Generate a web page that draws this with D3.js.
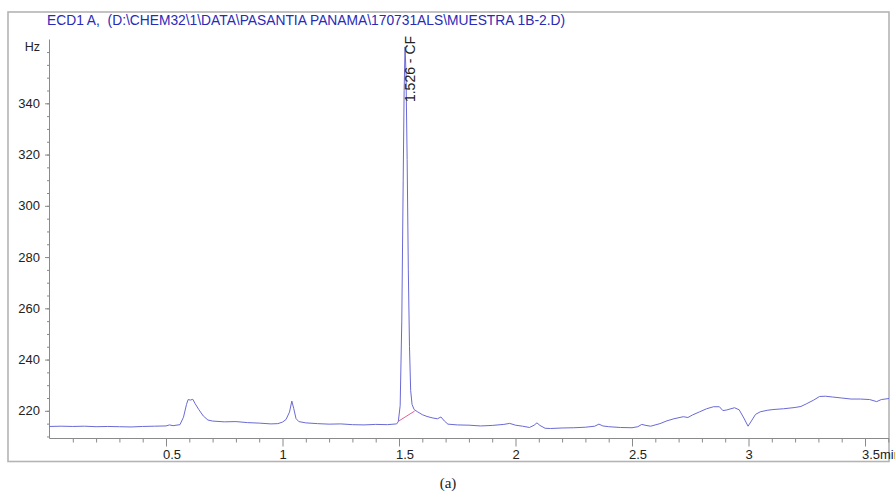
<!DOCTYPE html>
<html>
<head>
<meta charset="utf-8">
<script src="https://cdn.jsdelivr.net/npm/d3@7"></script>
<style>
  html, body { margin: 0; padding: 0; background: #fff; }
  svg { display: block; }
</style>
</head>
<body>
<svg id="chart" width="895" height="497"></svg>
<script>
const titleText = "ECD1 A,  (D:\\CHEM32\\1\\DATA\\PASANTIA PANAMA\\170731ALS\\MUESTRA 1B-2.D)";
const yUnit = "Hz";
const caption = "(a)";
const peakLabel = "1.526 - CF";
const peakTime = 1.526;

const times = [0.00,0.05,0.10,0.15,0.20,0.25,0.30,0.35,0.40,0.45,0.50,0.515,0.53,0.56,0.575,0.588,0.595,0.605,0.615,0.625,0.64,0.66,0.68,0.70,0.75,0.80,0.85,0.90,0.95,0.98,1.00,1.015,1.03,1.04,1.048,1.058,1.07,1.10,1.15,1.20,1.25,1.30,1.35,1.40,1.45,1.49,1.497,1.505,1.512,1.518,1.522,1.526,1.530,1.535,1.540,1.545,1.550,1.556,1.565,1.58,1.60,1.62,1.645,1.665,1.68,1.695,1.71,1.75,1.80,1.85,1.90,1.95,1.975,2.00,2.03,2.06,2.08,2.092,2.105,2.127,2.15,2.20,2.25,2.30,2.34,2.358,2.375,2.40,2.45,2.50,2.525,2.542,2.56,2.58,2.62,2.65,2.68,2.72,2.74,2.76,2.79,2.82,2.85,2.875,2.89,2.905,2.94,2.96,2.98,2.998,3.015,3.03,3.05,3.08,3.105,3.15,3.20,3.225,3.25,3.28,3.305,3.33,3.36,3.40,3.44,3.48,3.52,3.55,3.57,3.603];
const signal = [213.9,214.0,213.9,214.0,213.8,213.9,213.8,213.7,213.9,214.0,214.1,214.5,214.2,214.6,217.5,222.5,224.4,224.2,224.5,222.8,220.6,218.0,216.4,216.0,215.7,215.8,215.4,215.2,214.9,215.0,215.6,216.6,219.5,223.8,221.0,217.0,215.8,215.3,215.0,214.8,214.9,214.6,214.5,214.7,214.6,214.9,215.8,222,255,310,345,362,352,318,275,245,228,222.5,220.5,219.6,218.5,217.8,217.2,216.9,217.6,216.0,214.8,214.5,214.4,214.1,214.3,214.7,215.1,214.4,214.0,213.5,214.4,215.3,214.3,213.2,213.1,213.3,213.4,213.6,214.0,214.8,214.1,213.8,213.5,213.4,213.8,214.7,214.3,214.0,215.0,216.1,216.9,217.7,217.4,218.4,219.6,220.8,221.6,221.6,220.1,220.3,221.2,220.4,217.2,214.0,216.4,218.6,219.6,220.2,220.5,220.8,221.3,221.7,222.8,224.2,225.6,225.7,225.4,225.0,224.6,224.6,224.4,223.6,224.4,224.8];

// integration baseline of the main peak
const baseTimes = [1.495, 1.567];
const baseValues = [215.8, 219.9];

const xMajorTicks = [0.5, 1, 1.5, 2, 2.5, 3, 3.5];
const xMajorLabels = ["0.5", "1", "1.5", "2", "2.5", "3", "3.5min"];
const xMinorTicks = d3.range(1, 37).map(i => i / 10);
const yMajorTicks = [220, 240, 260, 280, 300, 320, 340];
const yMinorTicks = d3.range(210, 365, 5);

(function () {
const svg = d3.select("#chart");
const pL = 49.5, pR = 889, pT = 39.5, pB = 438.5;

const x = d3.scaleLinear().domain([0, 3.603]).range([pL, pR]);
const y = d3.scaleLinear().domain([209.2, 364.9]).range([pB, pT]);

const axisColor = "#8a8a8a";
const font = "'Liberation Sans', Arial, sans-serif";

// outer frame
svg.append("rect")
  .attr("x", 8).attr("y", 12).attr("width", 881).attr("height", 449.5)
  .attr("fill", "none").attr("stroke", "#b4b4b4").attr("stroke-width", 1.6);

// title
svg.append("text")
  .attr("x", 47).attr("y", 25)
  .attr("fill", "#2a2ab8")
  .style("white-space", "pre")
  .style("font-family", font).style("font-size", "13.8px")
  .text(titleText);

// y axis
const yMinG = svg.append("g").attr("transform", `translate(${pL},0)`)
  .call(d3.axisLeft(y).tickValues(yMinorTicks).tickSize(2.5).tickFormat(""));
yMinG.select(".domain").remove();
yMinG.selectAll("line").attr("stroke", axisColor);
const yMajG = svg.append("g").attr("transform", `translate(${pL},0)`)
  .call(d3.axisLeft(y).tickValues(yMajorTicks).tickSize(4.5).tickPadding(5).tickFormat(d3.format("d")));
yMajG.select(".domain").remove();
yMajG.selectAll("line").attr("stroke", axisColor);
yMajG.selectAll("text").attr("fill", "#222").style("font-family", font).style("font-size", "13px");
svg.append("line").attr("x1", pL).attr("x2", pL).attr("y1", pT).attr("y2", pB)
  .attr("stroke", axisColor);
svg.append("text")
  .attr("x", 40).attr("y", y(362.2)).attr("dy", "0.35em")
  .attr("text-anchor", "end").attr("fill", "#222")
  .style("font-family", font).style("font-size", "12.5px")
  .text(yUnit);

// x axis
const xMinG = svg.append("g").attr("transform", `translate(0,${pB})`)
  .call(d3.axisBottom(x).tickValues(xMinorTicks.filter(t => !xMajorTicks.some(m => Math.abs(m - t) < 1e-9))).tickSize(4).tickFormat(""));
xMinG.select(".domain").remove();
xMinG.selectAll("line").attr("stroke", axisColor);
const xMajG = svg.append("g").attr("transform", `translate(0,${pB})`)
  .call(d3.axisBottom(x).tickValues(xMajorTicks).tickSize(8).tickPadding(5)
        .tickFormat((d, i) => xMajorLabels[i]));
xMajG.select(".domain").remove();
xMajG.selectAll("line").attr("stroke", axisColor);
xMajG.selectAll("text")
  .attr("text-anchor", "start").attr("dx", "-3.6")
  .attr("y", 11).attr("dy", "0.71em")
  .attr("fill", "#222").style("font-family", font).style("font-size", "13px");
svg.append("line").attr("x1", pL).attr("x2", pR).attr("y1", pB).attr("y2", pB)
  .attr("stroke", axisColor);

// trace
const pts = times.map((t, i) => [t, signal[i]]);
svg.append("path")
  .datum(pts)
  .attr("fill", "none")
  .attr("stroke", "#6a6ad6")
  .attr("stroke-width", 1)
  .attr("d", d3.line().x(d => x(d[0])).y(d => y(d[1])));

// integration baseline
svg.append("path")
  .datum(baseTimes.map((t, i) => [t, baseValues[i]]))
  .attr("fill", "none").attr("stroke", "#e0609a").attr("stroke-width", 1)
  .attr("d", d3.line().x(d => x(d[0])).y(d => y(d[1])));

// peak label
const px = x(peakTime) + 5, py = 69;
svg.append("text")
  .attr("transform", `translate(${px},${py}) rotate(-90)`)
  .attr("text-anchor", "middle").attr("dy", "0.35em")
  .attr("fill", "#222").style("font-family", font).style("font-size", "14px")
  .text(peakLabel);

// caption
svg.append("text")
  .attr("x", 448).attr("y", 488)
  .attr("text-anchor", "middle").attr("fill", "#222")
  .style("font-family", "'Liberation Serif', 'Times New Roman', serif").style("font-size", "15px")
  .text(caption);
})();
</script>
</body>
</html>
